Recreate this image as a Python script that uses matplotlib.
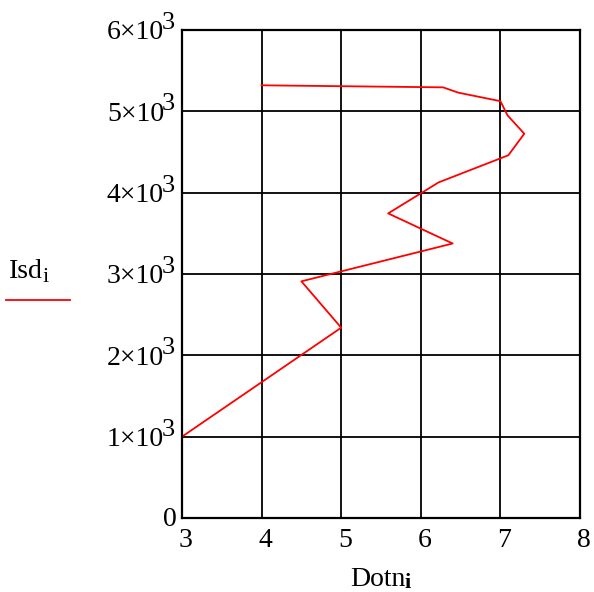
# Isd vs Dotn profile, Mathcad-style grid plot

import matplotlib
matplotlib.use('Agg')
import matplotlib.pyplot as plt
import matplotlib.transforms as mtransforms
from matplotlib.lines import Line2D

plt.rcParams['font.family'] = ['Liberation Serif', 'DejaVu Serif']

# data
dotn = [3.0, 5.0, 4.50, 6.40, 5.59, 6.18, 6.22, 7.10, 7.30, 7.09, 7.0, 6.47, 6.28, 4.0]
isd = [1000, 2340, 2910, 3375, 3745, 4100, 4125, 4460, 4725, 4950, 5125, 5230, 5295, 5320]

xticks = [3, 4, 5, 6, 7, 8]
yticks = [0, 1000, 2000, 3000, 4000, 5000, 6000]
ylabels = ['0', '1×10', '2×10', '3×10', '4×10', '5×10', '6×10']

FS = 20

fig = plt.figure(figsize=(5.94, 5.92), dpi=100)
ax = fig.add_axes([182/594, 1 - 518/592, 398/594, 488/592])

ax.plot(dotn, isd, color='#ff0000', lw=1.3)

ax.set_xlim(3, 8)
ax.set_ylim(0, 6000)
ax.set_xticks(xticks)
ax.set_yticks(yticks)
ax.set_xticklabels([str(t) for t in xticks], fontsize=FS)
ax.set_yticklabels([])
ax.tick_params(length=0)
ax.tick_params(axis='x', pad=7)
# Mathcad puts the x numbers a little right of the grid line
shift = mtransforms.ScaledTranslation(4/100, 0, fig.dpi_scale_trans)
for lab in ax.get_xticklabels():
    lab.set_transform(lab.get_transform() + shift)
ax.grid(True, color='black', lw=1.3)
ax.set_axisbelow(True)
for s in ax.spines.values():
    s.set_linewidth(1.6)

# y tick labels: mantissa plus a raised full-size exponent
for t, lab in zip(yticks, ylabels):
    if t == 0:
        ax.annotate(lab, xy=(0, t), xycoords=('axes fraction', 'data'),
                    xytext=(-4, -1), textcoords='offset points',
                    ha='right', va='center', fontsize=FS)
    else:
        ax.annotate(lab, xy=(0, t), xycoords=('axes fraction', 'data'),
                    xytext=(-13, -2), textcoords='offset points',
                    ha='right', va='center', fontsize=FS)
        ax.annotate('3', xy=(0, t), xycoords=('axes fraction', 'data'),
                    xytext=(-5, 5), textcoords='offset points',
                    ha='right', va='center', fontsize=FS - 1)

# x axis title with a separate subscript
fig.text(350/594, 1 - 579/592, 'Dotn', fontsize=FS, va='center', ha='left')
fig.text(405/594, 1 - 583/592, 'i', fontsize=FS - 4, fontweight='bold', va='center', ha='left')

# legend at left: name over a red line sample
fig.text(9/594, 1 - 271/592, 'Isd', fontsize=FS, va='center', ha='left')
fig.text(43/594, 1 - 278/592, 'i', fontsize=FS - 4, va='center', ha='left')
fig.add_artist(Line2D([6/594, 70/594], [1 - 300/592, 1 - 300/592], color='#ff0000', lw=1.3))

fig.savefig('out.png', dpi=100)
